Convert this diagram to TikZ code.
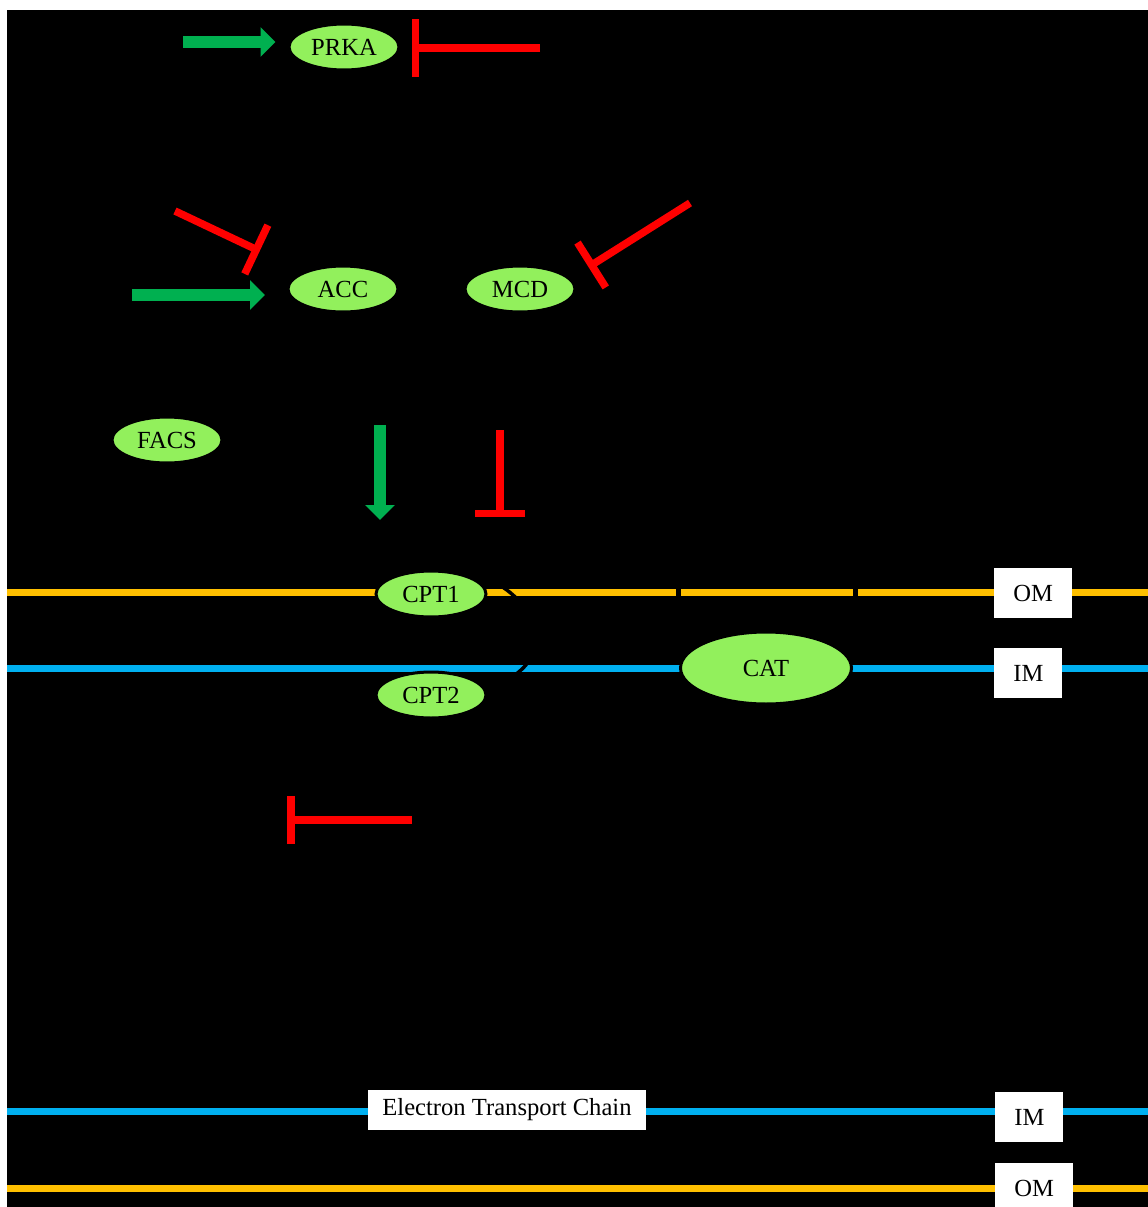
\documentclass[tikz,border=0pt]{standalone}
\usepackage{fontspec}
\setmainfont{Liberation Serif}
\usepackage{tikz}
\usetikzlibrary{shapes,arrows.meta,positioning,calc,backgrounds}
\definecolor{enzgreen}{RGB}{146,240,92}
\definecolor{actgreen}{RGB}{0,176,80}
\definecolor{inhred}{RGB}{255,0,0}
\definecolor{omorange}{RGB}{255,192,0}
\definecolor{imblue}{RGB}{0,176,240}

\begin{document}
\begin{tikzpicture}[x=0.02cm, y=-0.02cm,
    enzyme/.style={ellipse, fill=enzgreen, draw=black, line width=0.06cm, minimum width=2.2cm, minimum height=0.92cm, inner sep=0pt, font=\fontsize{14}{16}\selectfont},
    tag/.style={fill=white, minimum height=1cm, inner xsep=0.38cm, inner ysep=0pt, font=\fontsize{14}{16}\selectfont},
    act/.style={actgreen, line width=0.24cm, -{Triangle[width=0.58cm, length=0.3cm]}},
    inh/.style={inhred, line width=0.15cm, -{Bar[width=#1]}}, inh/.default=1.1cm,
    omline/.style={omorange, line width=0.14cm},
    imline/.style={imblue, line width=0.14cm}]
    \useasboundingbox (0,0) rectangle (1148,1207);

    % Enzymes
    \node[enzyme] (PRKA) at (344,47) {PRKA};
    \node[enzyme] (ACC) at (343,289) {ACC};
    \node[enzyme] (MCD) at (520,289) {MCD};
    \node[enzyme] (FACS) at (167,440) {FACS};
    \node[enzyme] (CPT1) at (431,594) {CPT1};
    \node[enzyme, minimum width=3.42cm, minimum height=1.44cm] (CAT) at (766,668) {CAT};
    \node[enzyme] (CPT2) at (431,695) {CPT2};

    % Membrane labels
    \node[tag, anchor=west] (omTop) at (994,593) {OM};
    \node[tag, anchor=west] (imTop) at (994,673) {IM};
    \node[tag, minimum height=0.8cm, inner xsep=0.28cm] (etc) at (507,1110) {Electron Transport Chain};
    \node[tag, anchor=west] (imBot) at (995,1117) {IM};
    \node[tag, anchor=west] (omBot) at (995,1188) {OM};

    % Free ends
    \coordinate (prkaOn) at (183,42);
    \coordinate (prkaOff) at (540,48);
    \coordinate (accOn) at (132,295);
    \coordinate (accOff) at (175,211);
    \coordinate (mcdOff) at (690,203);
    \coordinate (cptOn) at (380,425);
    \coordinate (cptOff) at (500,430);
    \coordinate (lowOff) at (412,820);
    \coordinate (lowBar) at (287,820);

    % Activation and inhibition
    \draw[act, shorten >=0.24cm] (prkaOn) -- (prkaOn -| PRKA.west);
    \draw[inh=1.16cm, shorten >=0.23cm] (prkaOff) -- (prkaOff -| PRKA.east);
    \draw[act, shorten >=0.43cm] (accOn) -- (accOn -| ACC.west);
    \draw[inh=1.08cm, shorten >=0.96cm] (accOff) -- (ACC.north west);
    \draw[inh=1.06cm, shorten >=0.42cm] (mcdOff) -- (MCD.12);
    \draw[act, shorten >=0.99cm] (cptOn) -- (cptOn |- CPT1.north);
    \draw[inh=1cm, shorten >=1.05cm] (cptOff) -- (cptOff |- CPT1.north);
    \draw[inh=0.96cm] (lowOff) -- (lowBar);

    % Carnitine shuttle
    \draw[black, line width=0.07cm] (CPT1.north east) .. controls (505,572) and (590,650) .. (CPT2.5);

    % Background and membranes
    \begin{scope}[on background layer]
        \fill[white] (0,0) rectangle (1148,1207);
        \fill[black] (7,10) rectangle (1148,1207);
        \draw[omline] (7,592) -- (676,592) (681,592) -- (853,592) (858,592) -- (1148,592);
        \draw[imline] (7,668) -- (1148,668);
        \draw[imline] (7,1111) -- (1148,1111);
        \draw[omline] (7,1188) -- (1148,1188);
    \end{scope}
\end{tikzpicture}
\end{document}
